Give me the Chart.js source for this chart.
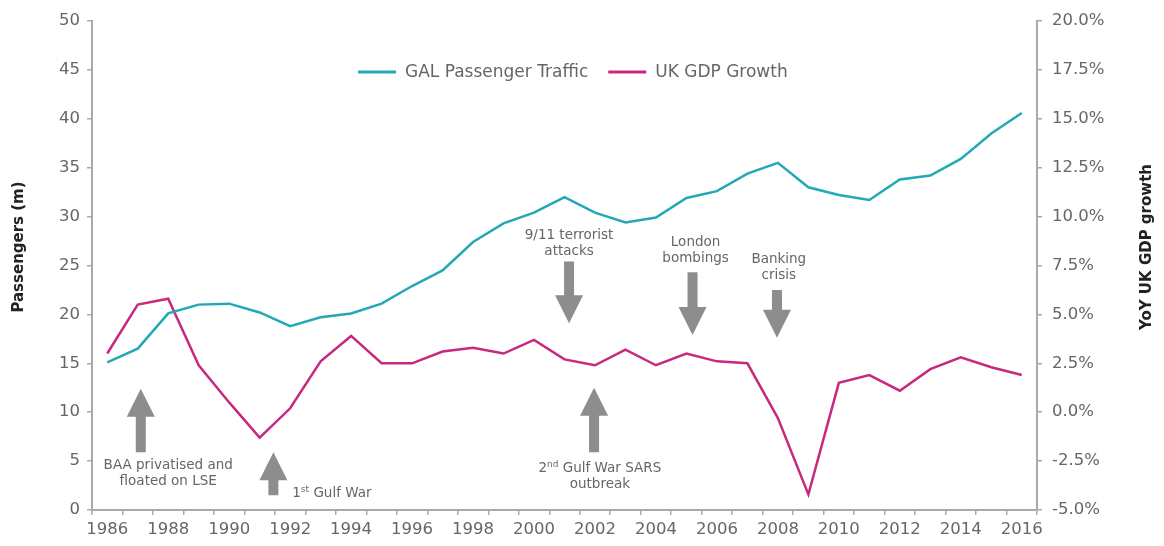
<!DOCTYPE html>
<html>
<head>
<meta charset="utf-8">
<script src="https://cdn.jsdelivr.net/npm/chart.js@4.4.1/dist/chart.umd.min.js"></script>
<style>
  html, body { margin: 0; padding: 0; background: #fff; }
  #wrap { width: 1164px; height: 546px; position: relative; }
</style>
</head>
<body>
<div id="wrap"><canvas id="chart"></canvas></div>
<script>
// --- datos ---
const years = ['1986','1987','1988','1989','1990','1991','1992','1993','1994','1995',
               '1996','1997','1998','1999','2000','2001','2002','2003','2004','2005',
               '2006','2007','2008','2009','2010','2011','2012','2013','2014','2015','2016'];
const passengers = [15.1, 16.5, 20.1, 21.0, 21.1, 20.2, 18.8, 19.7, 20.1, 21.1,
                    22.9, 24.5, 27.4, 29.3, 30.4, 32.0, 30.4, 29.4, 29.9, 31.9,
                    32.6, 34.4, 35.5, 33.0, 32.2, 31.7, 33.8, 34.2, 35.9, 38.5, 40.6];
const gdpGrowth = [3.0, 5.5, 5.8, 2.4, 0.5, -1.3, 0.2, 2.6, 3.9, 2.5,
                   2.5, 3.1, 3.3, 3.0, 3.7, 2.7, 2.4, 3.2, 2.4, 3.0,
                   2.6, 2.5, -0.3, -4.2, 1.5, 1.9, 1.1, 2.2, 2.8, 2.3, 1.9];
const yearTicks = ['1986','1988','1990','1992','1994','1996','1998','2000',
                   '2002','2004','2006','2008','2010','2012','2014','2016'];
const passengerTicks = [0, 5, 10, 15, 20, 25, 30, 35, 40, 45, 50];
const gdpTicks = [-5, -2.5, 0, 2.5, 5, 7.5, 10, 12.5, 15, 17.5, 20];

// anotaciones: año y valor (eje izquierdo) de la flecha y del texto
const events = [
  { at: 1987.1,  tail: 5.9,  tip: 12.4, textAt: 1988.0,  textY: 4.5,  align: 'center',
    lines: [[['BAA privatised and']], [['floated on LSE']]] },
  { at: 1991.45, tail: 1.5,  tip: 5.9,  textAt: 1992.07, textY: 1.7,  align: 'left',
    lines: [[['1'], ['st', true], [' Gulf War']]] },
  { at: 2001.15, tail: 25.4, tip: 19.1, textAt: 2001.15, textY: 28.1, align: 'center',
    lines: [[['9/11 terrorist']], [['attacks']]] },
  { at: 2001.97, tail: 5.9,  tip: 12.5, textAt: 2002.16, textY: 4.2,  align: 'center',
    lines: [[['2'], ['nd', true], [' Gulf War SARS']], [['outbreak']]] },
  { at: 2005.2,  tail: 24.3, tip: 17.9, textAt: 2005.3,  textY: 27.4, align: 'center',
    lines: [[['London']], [['bombings']]] },
  { at: 2007.97, tail: 22.5, tip: 17.6, textAt: 2008.03, textY: 25.6, align: 'center',
    lines: [[['Banking']], [['crisis']]] }
];

const TEAL = '#23a8b6';
const MAGENTA = '#c8297f';
const GREY_TXT = '#666666';
const AXIS = '#a9a9a9';
const FONT = '"DejaVu Sans", sans-serif';

// --- plugin: leyenda, títulos de ejes y anotaciones ---
const overlay = {
  id: 'overlay',
  afterDraw(chart) {
    const { ctx, chartArea, scales } = chart;
    const x = scales.x, y = scales.y;
    const step = x.getPixelForValue(1) - x.getPixelForValue(0);
    const xAt = yr => x.getPixelForValue(0) + (yr - 1986) * step;

    ctx.save();

    // leyenda
    ctx.font = '17px ' + FONT;
    ctx.textBaseline = 'middle';
    ctx.textAlign = 'left';
    let lx = chartArea.left + 266;
    const ly = chartArea.top + 51;
    chart.data.datasets.forEach(ds => {
      ctx.strokeStyle = ds.borderColor;
      ctx.lineWidth = 3;
      ctx.beginPath();
      ctx.moveTo(lx, ly);
      ctx.lineTo(lx + 38, ly);
      ctx.stroke();
      ctx.fillStyle = GREY_TXT;
      ctx.fillText(ds.label, lx + 47, ly + 1);
      lx += 47 + ctx.measureText(ds.label).width + 20;
    });

    // títulos de ejes
    ctx.fillStyle = '#222';
    ctx.font = 'bold 15px ' + FONT;
    ctx.textAlign = 'center';
    const ty = chartArea.top + 226;
    [[19, 'Passengers (m)'], [chart.width - 17, 'YoY UK GDP growth']].forEach(([tx, t]) => {
      ctx.save();
      ctx.translate(tx, ty);
      ctx.rotate(-Math.PI / 2);
      ctx.fillText(t, 0, 0);
      ctx.restore();
    });

    // flechas y textos
    events.forEach(ev => {
      const cx = xAt(ev.at);
      const yTail = y.getPixelForValue(ev.tail);
      const yTip = y.getPixelForValue(ev.tip);
      const dir = Math.sign(yTip - yTail);
      const yBase = yTip - dir * 28;
      ctx.fillStyle = '#8d8d8f';
      ctx.beginPath();
      ctx.moveTo(cx - 5, yTail);
      ctx.lineTo(cx + 5, yTail);
      ctx.lineTo(cx + 5, yBase);
      ctx.lineTo(cx + 14, yBase);
      ctx.lineTo(cx, yTip);
      ctx.lineTo(cx - 14, yBase);
      ctx.lineTo(cx - 5, yBase);
      ctx.closePath();
      ctx.fill();

      ctx.fillStyle = GREY_TXT;
      ctx.textAlign = 'left';
      ctx.textBaseline = 'middle';
      const tx0 = xAt(ev.textAt);
      let tyy = y.getPixelForValue(ev.textY);
      ev.lines.forEach(parts => {
        const widths = parts.map(([t, sup]) => {
          ctx.font = (sup ? '9px ' : '13.5px ') + FONT;
          return ctx.measureText(t).width;
        });
        const total = widths.reduce((a, b) => a + b, 0);
        let px = ev.align === 'center' ? tx0 - total / 2 : tx0;
        parts.forEach(([t, sup], i) => {
          ctx.font = (sup ? '9px ' : '13.5px ') + FONT;
          ctx.fillText(t, px, sup ? tyy - 4 : tyy);
          px += widths[i];
        });
        tyy += 16;
      });
    });

    ctx.restore();
  }
};

const tickFont = { family: FONT, size: 16.5 };

new Chart(document.getElementById('chart'), {
  type: 'line',
  data: {
    labels: years,
    datasets: [
      {
        label: 'GAL Passenger Traffic',
        data: passengers,
        yAxisID: 'y',
        borderColor: TEAL,
        borderWidth: 2.5,
        pointRadius: 0,
        tension: 0
      },
      {
        label: 'UK GDP Growth',
        data: gdpGrowth,
        yAxisID: 'y1',
        borderColor: MAGENTA,
        borderWidth: 2.5,
        pointRadius: 0,
        tension: 0
      }
    ]
  },
  options: {
    responsive: true,
    maintainAspectRatio: false,
    animation: false,
    layout: { padding: { top: 21, left: 0, right: 0, bottom: 0 } },
    plugins: { legend: { display: false }, tooltip: { enabled: false } },
    scales: {
      x: {
        offset: true,
        grid: { offset: true, drawOnChartArea: false, tickLength: 5, color: AXIS, lineWidth: 1.5 },
        border: { color: AXIS, width: 2 },
        ticks: {
          autoSkip: false, maxRotation: 0, padding: 5, color: GREY_TXT, font: tickFont,
          callback: function(v, i) { return yearTicks.includes(years[i]) ? years[i] : ''; }
        },
        afterFit: s => { s.height = 36; }
      },
      y: {
        position: 'left',
        min: 0, max: 50,
        afterBuildTicks: s => { s.ticks = passengerTicks.map(v => ({ value: v })); },
        grid: { drawOnChartArea: false, tickLength: 5, color: AXIS, lineWidth: 1.5 },
        border: { color: AXIS, width: 2 },
        ticks: { padding: 7, color: GREY_TXT, font: tickFont },
        afterFit: s => { s.width = 92; }
      },
      y1: {
        position: 'right',
        min: -5, max: 20,
        afterBuildTicks: s => { s.ticks = gdpTicks.map(v => ({ value: v })); },
        grid: { drawOnChartArea: false, tickLength: 5, color: AXIS, lineWidth: 1.5 },
        border: { color: AXIS, width: 2 },
        ticks: {
          padding: 10, color: GREY_TXT, font: tickFont,
          callback: v => v.toFixed(1) + '%'
        },
        afterFit: s => { s.width = 127; }
      }
    }
  },
  plugins: [overlay]
});
</script>
</body>
</html>
